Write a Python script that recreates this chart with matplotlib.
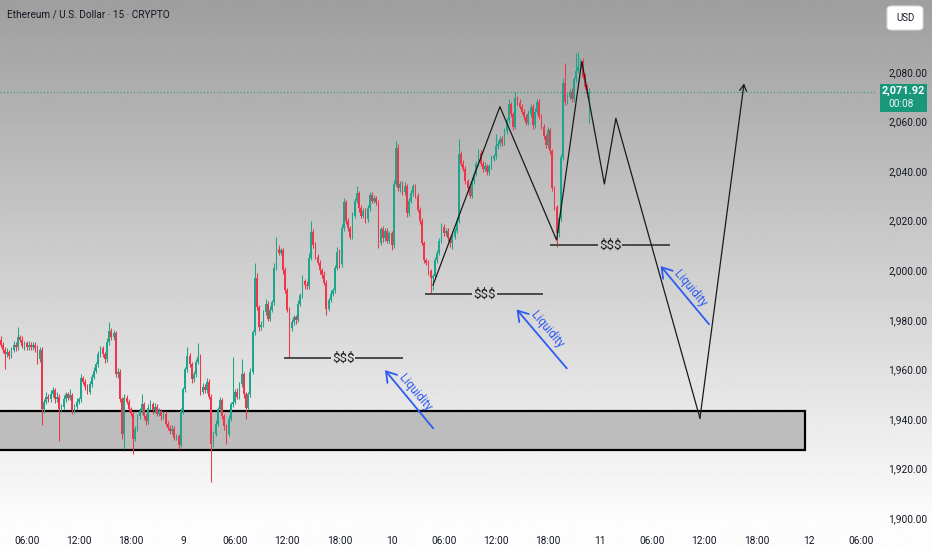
import numpy as np
import matplotlib
matplotlib.use("Agg")
import matplotlib.pyplot as plt
from matplotlib.patches import Rectangle, FancyBboxPatch
from matplotlib.transforms import blended_transform_factory

plt.rcParams['font.family'] = ['Roboto', 'DejaVu Sans']

# ---------------- data (15-minute candles, first bar = day 8 03:00) ----------------
first_open = 1972.0
closes = [
    # i0-19
    1970, 1968, 1966, 1967, 1965.5, 1968, 1970, 1969, 1973, 1972, 1969.5, 1970.5, 1969, 1970, 1969, 1970, 1968.5, 1964, 1968, 1944,
    # i20-46
    1947, 1949, 1948, 1950, 1951.5, 1948, 1949, 1944, 1945, 1948, 1950, 1948.5, 1949.5, 1943.5, 1945, 1947, 1948, 1956.5, 1955, 1953,
    1951, 1954, 1957, 1959.5, 1962, 1966, 1968.5,
    # i47-68
    1966, 1964, 1971, 1975.5, 1973, 1974.5, 1958, 1959, 1948, 1934, 1948.5, 1947, 1944, 1942, 1932, 1936, 1941, 1943, 1946, 1941,
    1939, 1944.5,
    # i69-83
    1946, 1943.5, 1945, 1942, 1943, 1941, 1942, 1938, 1936.5, 1935, 1936, 1932.5, 1933, 1929.5, 1943,
    # i84-117
    1952, 1960, 1965.5, 1962, 1956, 1958, 1963, 1965, 1951, 1953, 1951.5, 1955, 1949, 1930, 1934, 1938, 1944, 1947.5, 1941, 1937,
    1934, 1940, 1946, 1947, 1951, 1949, 1954, 1958, 1950, 1944.5, 1950, 1959, 1975, 1997,
    # i118-271
    1985, 1977, 1978, 1983, 1986.5, 1980.5, 1984, 1987, 2001, 2008.5,
    2007, 2008, 2000, 1992, 1984, 1976.5, 1979, 1981, 1980, 1986.5,
    1990, 1995.5, 1994, 1993.5, 2005, 2015.5, 2010, 2005.5, 2003, 2000,
    1998, 1995, 1984.5, 1988, 1990.5, 1992, 2001, 2007.5, 2002.5, 2017,
    2027.5, 2020, 2017, 2013.5, 2022, 2028, 2031, 2025, 2022, 2024,
    2020.5, 2025, 2030.5, 2028, 2029, 2027.5, 2011, 2016.5, 2013, 2016,
    2012, 2015, 2010, 2035, 2049.5, 2033, 2035, 2031.5, 2034, 2023,
    2028, 2031, 2034, 2030, 2024.5, 2020, 2011, 2004, 2003, 1999.5,
    1997, 1997.5, 2004, 2007, 2012, 2017.5, 2015, 2016, 2013, 2011,
    2013.5, 2016, 2020, 2047, 2043, 2041, 2036, 2033, 2030, 2036,
    2039, 2043, 2047.5, 2043, 2041, 2042, 2039.5, 2042, 2045, 2046,
    2050, 2051, 2053, 2051.5, 2056, 2060.5, 2067, 2063, 2058, 2069.5,
    2067.5, 2066, 2064, 2062, 2059.5, 2063, 2066, 2058.5, 2064, 2068,
    2062, 2058, 2054, 2050.5, 2056.5, 2048, 2033, 2025.5, 2015, 2021,
    2045.5, 2075.5, 2068, 2070, 2072, 2069, 2077, 2080.5, 2082, 2084.5,
    2078, 2074, 2071, 2071.92,
]
# wick extension above max(open, close) and below min(open, close)
hi_ext = [
    1.5, 1, 1, 1.5, 1, 1, 1.5, 1, 4, 1, 1.5, 1, 1, 1.5, 1, 1, 1, 1.5, 1, 1,
    1, 2, 1, 1.5, 1.5, 1, 2, 1, 1, 1.5, 1, 1, 2.5, 1, 1, 1.5, 1, 1.5, 1, 1, 1, 1.5, 1, 1.5, 1, 1.5, 1,
    1, 1, 1.5, 3.5, 1, 1.5, 1, 1.5, 1, 1, 1.5, 1, 1, 1, 1, 1, 1, 1.5, 4, 1, 1, 1.5,
    1.5, 1, 1.5, 1, 1.5, 1, 1, 1, 1, 1, 1.5, 1, 1, 1, 1.5,
    1, 1, 3.5, 1, 1, 1.5, 1, 5.5, 1, 1.5, 1, 1.5, 1, 1, 1, 1.5, 1, 1.5, 1, 1, 1, 1.5, 1, 18, 1, 1.5, 1, 6, 1, 1, 1, 1.5, 1, 6,
    2, 1, 1.5, 1, 2, 1, 1.5, 1, 2, 5,
    1.5, 1, 1, 1.5, 1, 1, 1.5, 1, 1, 1.5,
    1, 2.5, 1, 1.5, 2, 4.5, 1, 1.5, 1, 1,
    1, 1.5, 1, 1, 1.5, 1, 1, 2, 1, 1.5,
    1.5, 1, 1, 1, 1.5, 1, 3, 1, 1.5, 1,
    1, 1.5, 1, 1, 1.5, 1, 1, 1, 1.5, 1,
    1, 1, 1, 1.5, 2.5, 1.5, 1, 1, 1.5, 1,
    1, 1.5, 1, 1, 1, 1, 1, 1, 1, 1,
    1, 1, 1.5, 1, 1, 1.5, 1, 1, 1, 1,
    1, 1, 1.5, 6, 1, 1.5, 1, 1, 1, 1.5,
    1, 1, 1.5, 1, 1, 1.5, 1, 1, 1.5, 1,
    5, 1.5, 1, 1, 1.5, 1, 2, 1, 1, 2.5,
    1, 1.5, 1, 1, 1, 1.5, 1, 1, 1.5, 1,
    1, 1, 1, 1, 1.5, 1, 1, 1, 1, 1,
    1.5, 2, 8, 1.5, 1, 1.5, 1, 7, 6, 1,
    1, 1.5, 1, 1.5,
]
lo_ext = [
    1, 1.5, 6, 1, 1.5, 1, 1, 1.5, 1, 1, 1, 1.5, 1, 1, 1, 1, 1.5, 2, 1, 6.5,
    1.5, 1, 1, 1, 1, 1.5, 1, 13, 1, 1, 1, 1, 1, 1.5, 1, 1, 1, 1, 1, 1.5, 1, 1, 1, 1, 1, 1, 1,
    1, 1.5, 1, 1, 1, 1, 1, 1.5, 1, 2, 6, 1, 1, 1, 6, 1, 1, 1, 1, 1, 1.5, 1,
    1, 1.5, 1, 1, 1, 1.5, 1, 1, 1, 1, 1, 1, 1, 1.5, 1,
    1, 1, 1, 1, 1.5, 1, 1, 1, 1.5, 1, 1, 1, 1, 15.5, 1.5, 1, 1, 1, 1, 1.5, 4, 1, 1, 1, 1, 1, 1, 1, 1.5, 4.5, 1, 1, 1, 1,
    1, 1.5, 1, 1, 1, 1, 1, 1, 1, 1,
    1, 1, 1.5, 1, 1, 12, 1, 1, 1.5, 1,
    1, 1, 1.5, 1, 1, 1, 1, 1, 1, 1.5,
    1, 1, 2.5, 1, 1, 1, 1, 1, 1.5, 1,
    1, 1.5, 1, 1, 1, 1, 1, 1.5, 1, 1,
    1.5, 1, 1, 1, 1, 1, 2, 1, 1.5, 1,
    1, 1, 2, 1, 1, 1, 1.5, 1, 1, 1.5,
    1, 1, 1, 1, 1, 1.5, 1, 1, 1, 1.5,
    6, 5, 1, 1, 1, 1, 1, 1, 1, 1.5,
    2.5, 1, 1, 1, 1, 1, 1, 1.5, 1, 1,
    1, 1, 1, 1, 1.5, 1, 1, 1, 1, 1,
    1, 1, 1, 1.5, 1, 1, 1, 1, 1.5, 1,
    1, 1, 1, 1.5, 1, 1, 1, 1.5, 1, 1,
    1, 1, 1, 1, 1, 1, 1, 1, 5.5, 1.5,
    1, 1, 1.5, 1, 1, 1, 1, 1, 1, 1,
    1, 1, 1, 11.5,
]

start_hour = 3.0            # first candle: day 8, 03:00
tick_hours = [6, 12, 18, 24, 30, 36, 42, 48, 54, 60, 66, 72, 78, 84, 90, 96, 102]
tick_labels = ["06:00", "12:00", "18:00", "9", "06:00", "12:00", "18:00", "10", "06:00",
               "12:00", "18:00", "11", "06:00", "12:00", "18:00", "12", "06:00"]
price_ticks = [1900, 1920, 1940, 1960, 1980, 2000, 2020, 2040, 2060, 2080]
last_price = 2071.92

# drawings (x in bar index, y in price)
zone_low, zone_high, zone_end = 1927.45, 1943.2, 370.2
liq_levels = [1964.4, 1990.3, 2010.1]
liq_seg1 = [(130.5, 152.2), (195.4, 217.1), (253.0, 275.1)]
liq_seg2 = [(163.2, 185.3), (228.6, 249.7), (286.1, 308.2)]
liq_text_x = [157.7, 222.6, 280.6]
zig_x = [199.1, 229.9, 256.0, 267.6, 278.0, 283.3, 322.0, 342.3]
zig_y = [1994.0, 2066.0, 2012.2, 2084.2, 2034.8, 2061.3, 1940.3, 2075.4]
arrow_tail = [(199.2, 1936.2), (260.7, 1960.4), (326.2, 1978.2)]
arrow_tip = [(177.0, 1959.7), (237.6, 1984.2), (303.9, 2001.7)]
arrow_text = [(190.8, 1950.5), (251.4, 1975.9), (317.4, 1992.7)]

n = min(len(closes), len(hi_ext), len(lo_ext))
closes = np.array(closes[:n], dtype=float)
opens = np.concatenate([[first_open], closes[:-1]])
highs = np.maximum(opens, closes) + np.array(hi_ext[:n])
lows = np.minimum(opens, closes) - np.array(lo_ext[:n])
xs = np.arange(n)

GREEN = '#1ea58c'
RED = '#f0364a'

# ---------------- figure ----------------
W, H = 932, 550
fig = plt.figure(figsize=(W / 100, H / 100), dpi=100)

bg = fig.add_axes([0, 0, 1, 1])
yy = np.linspace(0, 1, 400)[:, None]
shade = np.clip(0.62 + (0.99 - 0.62) * (yy / 0.95), 0, 0.99)
bg.imshow(np.repeat(shade, 2, axis=1), cmap='gray', vmin=0, vmax=1, aspect='auto',
          extent=[0, 1, 0, 1], origin='upper')
bg.set_axis_off()

ax = fig.add_axes([0, 22 / H, 875 / W, 528 / H])
ax.patch.set_alpha(0)
ax.set_xlim(-0.258, 402.6)
ax.set_ylim(1895.98, 2109.06)
for s in ax.spines.values():
    s.set_visible(False)

# zone
ax.add_patch(Rectangle((-3, zone_low), zone_end + 3, zone_high - zone_low,
                       facecolor='#bdbdbd', edgecolor='black', lw=1.6, zorder=1))

# candles
up = closes >= opens
cols = np.where(up, GREEN, RED)
ax.vlines(xs, lows, highs, colors=cols, lw=0.75, zorder=3)
body_b = np.minimum(opens, closes)
body_h = np.maximum(np.abs(closes - opens), 0.35)
ax.bar(xs, body_h, bottom=body_b, width=0.8, color=cols, linewidth=0, zorder=4)

# current price line
ax.axhline(last_price, color='#1a9c7e', lw=0.8, ls=(0, (1, 2)), zorder=2)

# $$$ levels
for lvl, s1, s2, tx in zip(liq_levels, liq_seg1, liq_seg2, liq_text_x):
    ax.plot(s1, [lvl, lvl], color='#4a4a4a', lw=1.4, zorder=5, solid_capstyle='butt')
    ax.plot(s2, [lvl, lvl], color='#4a4a4a', lw=1.4, zorder=5, solid_capstyle='butt')
    ax.text(tx, lvl, "$$$", ha='center', va='center', fontsize=9.5, color='#1c1c1c', zorder=6)

# projection zigzag
ax.plot(zig_x[:-1], zig_y[:-1], color='#1a1a1a', lw=0.9, zorder=6)
ax.annotate('', xy=(zig_x[-1], zig_y[-1]), xytext=(zig_x[-2], zig_y[-2]),
            arrowprops=dict(arrowstyle='->,head_length=0.45,head_width=0.25',
                            color='#1a1a1a', lw=0.9, shrinkA=0, shrinkB=0), zorder=6)

# liquidity arrows
BLUE = '#2e5cf0'
for (tx0, ty0), (hx, hy), (lx, ly) in zip(arrow_tail, arrow_tip, arrow_text):
    ax.annotate('', xy=(hx, hy), xytext=(tx0, ty0),
                arrowprops=dict(arrowstyle='->,head_length=0.7,head_width=0.45',
                                color=BLUE, lw=1.3, shrinkA=0, shrinkB=0), zorder=6)
    ax.text(lx, ly, "Liquidity", rotation=-50, rotation_mode='anchor', ha='center', va='center',
            fontsize=8.5, color=BLUE, zorder=6)

# axes ticks
ax.yaxis.tick_right()
ax.set_yticks(price_ticks)
ax.set_yticklabels([f"{p:,.2f}" for p in price_ticks])
ax.tick_params(axis='y', length=0, pad=9.5, labelsize=7.3, labelcolor='#131722')
ax.set_xticks([(h - start_hour) * 4 for h in tick_hours])
ax.set_xticklabels(tick_labels)
ax.tick_params(axis='x', length=0, pad=6, labelsize=7.3, labelcolor='#131722')

# price label box
tr = blended_transform_factory(ax.transAxes, ax.transData)
ax.add_patch(Rectangle((880 / 875, last_price - 8.0), 47 / 875, 11.2, transform=tr,
                       facecolor='#18977a', edgecolor='none', clip_on=False, zorder=10))
ax.text(903.5 / 875, last_price + 0.4, f"{last_price:,.2f}", transform=tr, ha='center', va='center',
        fontsize=7.8, color='white', fontweight='bold', clip_on=False, zorder=11)
ax.text(888 / 875, last_price - 4.8, "00:08", transform=tr, ha='left', va='center',
        fontsize=7.3, color='#e8f5f0', clip_on=False, zorder=11)

# USD box
fig.patches.append(FancyBboxPatch((887 / W, 1 - 30 / H), 36 / W, 24 / H,
                                  boxstyle='round,pad=0,rounding_size=0.006',
                                  transform=fig.transFigure, facecolor='white',
                                  edgecolor='#d8d8d8', lw=0.8))
fig.text(896 / W, 1 - 18 / H, "USD", ha='left', va='center', fontsize=7, color='#131722')

# title
fig.text(7 / W, 1 - 15 / H, "Ethereum / U.S. Dollar · 15 · CRYPTO", ha='left', va='center',
         fontsize=7.2, color='#131722')

fig.savefig("out.png", dpi=100)
